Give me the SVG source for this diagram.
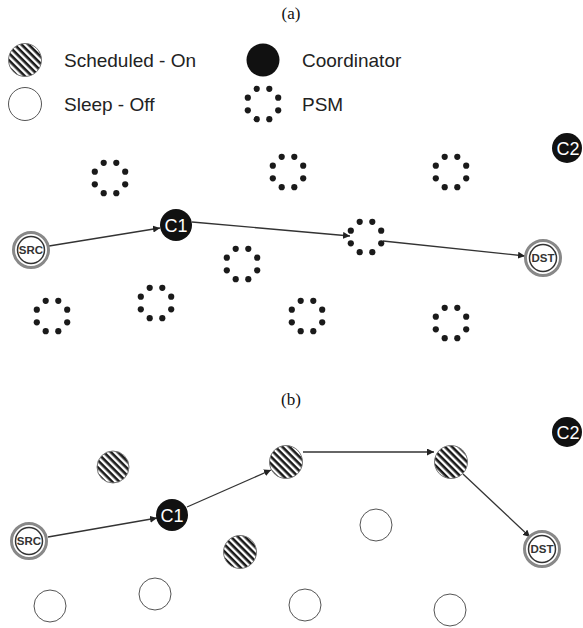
<svg xmlns="http://www.w3.org/2000/svg" width="583" height="628" viewBox="0 0 583 628">
<defs>
<style>
.lbl{font-family:"Liberation Sans",Arial,sans-serif;font-size:19px;fill:#222}
.ttl{font-family:"Liberation Serif","Times New Roman",serif;font-size:17px;fill:#111;text-anchor:middle}
.coord{fill:#111}
.ctext{font-family:"Liberation Sans",Arial,sans-serif;font-size:18px;fill:#fff;text-anchor:middle}
.etext{font-family:"Liberation Sans",Arial,sans-serif;font-size:11.5px;font-weight:bold;fill:#333;text-anchor:middle}
.sleep{fill:#fff;stroke:#555;stroke-width:1}
.sched{fill:url(#hatch);stroke:#777;stroke-width:1}
.edge{stroke:#333;stroke-width:1.3;fill:none;marker-end:url(#arr)}
.d{fill:#1a1a1a}
</style>
<pattern id="hatch" patternUnits="userSpaceOnUse" width="5" height="5" patternTransform="rotate(45)">
<rect width="5" height="5" fill="#fff"/>
<rect width="5" height="2.6" fill="#1a1a1a"/>
</pattern>
<marker id="arr" viewBox="0 0 10 10" refX="10" refY="5" markerWidth="7" markerHeight="7" markerUnits="userSpaceOnUse" orient="auto">
<path d="M0,0 L10,5 L0,10 z" fill="#222"/>
</marker>
<g id="psm">
<circle class="d" cx="6.3" cy="-15.2" r="3.1"/>
<circle class="d" cx="15.2" cy="-6.3" r="3.1"/>
<circle class="d" cx="15.2" cy="6.3" r="3.1"/>
<circle class="d" cx="6.3" cy="15.2" r="3.1"/>
<circle class="d" cx="-6.3" cy="15.2" r="3.1"/>
<circle class="d" cx="-15.2" cy="6.3" r="3.1"/>
<circle class="d" cx="-15.2" cy="-6.3" r="3.1"/>
<circle class="d" cx="-6.3" cy="-15.2" r="3.1"/>
</g>
<g id="endpoint">
<circle r="17.5" fill="#fff" stroke="#888" stroke-width="3"/>
<circle r="13.5" fill="none" stroke="#333" stroke-width="1.5"/>
</g>
</defs>
<rect width="583" height="628" fill="#fff"/>

<text class="ttl" x="291" y="19">(a)</text>
<g id="legend">
<circle class="sched" cx="25" cy="60" r="16.5"/>
<text class="lbl" x="64" y="67">Scheduled - On</text>
<circle class="sleep" cx="25" cy="104" r="16.5"/>
<text class="lbl" x="64" y="111">Sleep - Off</text>
<circle class="coord" cx="263" cy="60" r="16.5"/>
<text class="lbl" x="302" y="67">Coordinator</text>
<use href="#psm" x="263" y="104"/>
<text class="lbl" x="302" y="111">PSM</text>
</g>

<g id="a-connectors">
<line class="edge" x1="49" y1="246" x2="160" y2="228"/>
<line class="edge" x1="192" y1="222" x2="350" y2="236"/>
<line class="edge" x1="383" y1="241" x2="525" y2="256"/>
</g>
<g id="a-psm1"><use href="#psm" x="110" y="178"/></g>
<g id="a-psm2"><use href="#psm" x="288" y="172"/></g>
<g id="a-psm3"><use href="#psm" x="451" y="172"/></g>
<g id="a-c2"><circle class="coord" cx="567" cy="148" r="15"/><text class="ctext" x="568" y="155">C2</text></g>
<g id="a-src"><use href="#endpoint" x="31" y="250"/><text class="etext" x="31" y="254">SRC</text></g>
<g id="a-c1"><circle class="coord" cx="176" cy="225" r="16"/><text class="ctext" x="176" y="231.5">C1</text></g>
<g id="a-psm4"><use href="#psm" x="366" y="237"/></g>
<g id="a-dst"><use href="#endpoint" x="543" y="258"/><text class="etext" x="543" y="262">DST</text></g>
<g id="a-psm5"><use href="#psm" x="242" y="264"/></g>
<g id="a-psm6"><use href="#psm" x="52" y="316"/></g>
<g id="a-psm7"><use href="#psm" x="156" y="303"/></g>
<g id="a-psm8"><use href="#psm" x="307" y="316"/></g>
<g id="a-psm9"><use href="#psm" x="451" y="323"/></g>

<text class="ttl" x="291" y="405">(b)</text>
<g id="b-connectors">
<line class="edge" x1="48" y1="537" x2="157" y2="518"/>
<line class="edge" x1="187" y1="507" x2="271" y2="470"/>
<line class="edge" x1="303" y1="452" x2="434" y2="452"/>
<line class="edge" x1="463" y1="474" x2="530" y2="537"/>
</g>
<g id="b-c2"><circle class="coord" cx="567" cy="432" r="15"/><text class="ctext" x="568" y="439">C2</text></g>
<g id="b-s1"><circle class="sched" cx="113" cy="467" r="16"/></g>
<g id="b-s2"><circle class="sched" cx="286" cy="462" r="16.5"/></g>
<g id="b-s3"><circle class="sched" cx="451" cy="462" r="16.5"/></g>
<g id="b-c1"><circle class="coord" cx="172" cy="515" r="16"/><text class="ctext" x="172" y="521.5">C1</text></g>
<g id="b-src"><use href="#endpoint" x="29" y="541"/><text class="etext" x="29" y="545">SRC</text></g>
<g id="b-z1"><circle class="sleep" cx="376" cy="525" r="16"/></g>
<g id="b-s4"><circle class="sched" cx="240" cy="552" r="16.5"/></g>
<g id="b-dst"><use href="#endpoint" x="542" y="549"/><text class="etext" x="542" y="553">DST</text></g>
<g id="b-z2"><circle class="sleep" cx="50" cy="606" r="16"/></g>
<g id="b-z3"><circle class="sleep" cx="155" cy="594" r="16"/></g>
<g id="b-z4"><circle class="sleep" cx="305" cy="605" r="16"/></g>
<g id="b-z5"><circle class="sleep" cx="450" cy="610" r="16"/></g>
</svg>
